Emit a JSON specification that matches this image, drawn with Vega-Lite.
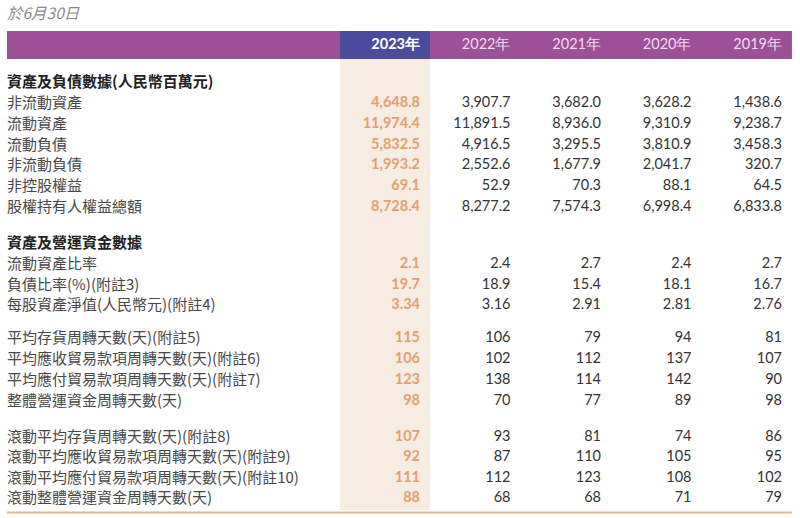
{
  "$schema": "https://vega.github.io/schema/vega-lite/v6.json",
  "width": 800,
  "height": 518,
  "padding": 0,
  "autosize": {"type": "fit", "contains": "padding"},
  "background": "#ffffff",
  "config": {"view": {"stroke": null}},
  "datasets": {
    "items": [
      {"line": 0, "item": "資產及負債數據(人民幣百萬元)", "h": true},
      {"line": 1.02, "item": "非流動資產", "h": false},
      {"line": 2.05, "item": "流動資產", "h": false},
      {"line": 3.05, "item": "流動負債", "h": false},
      {"line": 4.07, "item": "非流動負債", "h": false},
      {"line": 5.08, "item": "非控股權益", "h": false},
      {"line": 6.1, "item": "股權持有人權益總額", "h": false},
      {"line": 7.87, "item": "資產及營運資金數據", "h": true},
      {"line": 8.9, "item": "流動資產比率", "h": false},
      {"line": 9.9, "item": "負債比率(%)(附註3)", "h": false},
      {"line": 10.9, "item": "每股資產淨值(人民幣元)(附註4)", "h": false},
      {"line": 12.5, "item": "平均存貨周轉天數(天)(附註5)", "h": false},
      {"line": 13.53, "item": "平均應收貿易款項周轉天數(天)(附註6)", "h": false},
      {"line": 14.56, "item": "平均應付貿易款項周轉天數(天)(附註7)", "h": false},
      {"line": 15.58, "item": "整體營運資金周轉天數(天)", "h": false},
      {"line": 17.3, "item": "滾動平均存貨周轉天數(天)(附註8)", "h": false},
      {"line": 18.3, "item": "滾動平均應收貿易款項周轉天數(天)(附註9)", "h": false},
      {"line": 19.3, "item": "滾動平均應付貿易款項周轉天數(天)(附註10)", "h": false},
      {"line": 20.3, "item": "滾動整體營運資金周轉天數(天)", "h": false}
    ],
    "years": [
      {"year": 2023, "label": "2023年"},
      {"year": 2022, "label": "2022年"},
      {"year": 2021, "label": "2021年"},
      {"year": 2020, "label": "2020年"},
      {"year": 2019, "label": "2019年"}
    ],
    "cells": [
      {"line": 1.02, "year": 2023, "v": "4,648.8"}, {"line": 1.02, "year": 2022, "v": "3,907.7"}, {"line": 1.02, "year": 2021, "v": "3,682.0"}, {"line": 1.02, "year": 2020, "v": "3,628.2"}, {"line": 1.02, "year": 2019, "v": "1,438.6"},
      {"line": 2.05, "year": 2023, "v": "11,974.4"}, {"line": 2.05, "year": 2022, "v": "11,891.5"}, {"line": 2.05, "year": 2021, "v": "8,936.0"}, {"line": 2.05, "year": 2020, "v": "9,310.9"}, {"line": 2.05, "year": 2019, "v": "9,238.7"},
      {"line": 3.05, "year": 2023, "v": "5,832.5"}, {"line": 3.05, "year": 2022, "v": "4,916.5"}, {"line": 3.05, "year": 2021, "v": "3,295.5"}, {"line": 3.05, "year": 2020, "v": "3,810.9"}, {"line": 3.05, "year": 2019, "v": "3,458.3"},
      {"line": 4.07, "year": 2023, "v": "1,993.2"}, {"line": 4.07, "year": 2022, "v": "2,552.6"}, {"line": 4.07, "year": 2021, "v": "1,677.9"}, {"line": 4.07, "year": 2020, "v": "2,041.7"}, {"line": 4.07, "year": 2019, "v": "320.7"},
      {"line": 5.08, "year": 2023, "v": "69.1"}, {"line": 5.08, "year": 2022, "v": "52.9"}, {"line": 5.08, "year": 2021, "v": "70.3"}, {"line": 5.08, "year": 2020, "v": "88.1"}, {"line": 5.08, "year": 2019, "v": "64.5"},
      {"line": 6.1, "year": 2023, "v": "8,728.4"}, {"line": 6.1, "year": 2022, "v": "8,277.2"}, {"line": 6.1, "year": 2021, "v": "7,574.3"}, {"line": 6.1, "year": 2020, "v": "6,998.4"}, {"line": 6.1, "year": 2019, "v": "6,833.8"},
      {"line": 8.9, "year": 2023, "v": "2.1"}, {"line": 8.9, "year": 2022, "v": "2.4"}, {"line": 8.9, "year": 2021, "v": "2.7"}, {"line": 8.9, "year": 2020, "v": "2.4"}, {"line": 8.9, "year": 2019, "v": "2.7"},
      {"line": 9.9, "year": 2023, "v": "19.7"}, {"line": 9.9, "year": 2022, "v": "18.9"}, {"line": 9.9, "year": 2021, "v": "15.4"}, {"line": 9.9, "year": 2020, "v": "18.1"}, {"line": 9.9, "year": 2019, "v": "16.7"},
      {"line": 10.9, "year": 2023, "v": "3.34"}, {"line": 10.9, "year": 2022, "v": "3.16"}, {"line": 10.9, "year": 2021, "v": "2.91"}, {"line": 10.9, "year": 2020, "v": "2.81"}, {"line": 10.9, "year": 2019, "v": "2.76"},
      {"line": 12.5, "year": 2023, "v": "115"}, {"line": 12.5, "year": 2022, "v": "106"}, {"line": 12.5, "year": 2021, "v": "79"}, {"line": 12.5, "year": 2020, "v": "94"}, {"line": 12.5, "year": 2019, "v": "81"},
      {"line": 13.53, "year": 2023, "v": "106"}, {"line": 13.53, "year": 2022, "v": "102"}, {"line": 13.53, "year": 2021, "v": "112"}, {"line": 13.53, "year": 2020, "v": "137"}, {"line": 13.53, "year": 2019, "v": "107"},
      {"line": 14.56, "year": 2023, "v": "123"}, {"line": 14.56, "year": 2022, "v": "138"}, {"line": 14.56, "year": 2021, "v": "114"}, {"line": 14.56, "year": 2020, "v": "142"}, {"line": 14.56, "year": 2019, "v": "90"},
      {"line": 15.58, "year": 2023, "v": "98"}, {"line": 15.58, "year": 2022, "v": "70"}, {"line": 15.58, "year": 2021, "v": "77"}, {"line": 15.58, "year": 2020, "v": "89"}, {"line": 15.58, "year": 2019, "v": "98"},
      {"line": 17.3, "year": 2023, "v": "107"}, {"line": 17.3, "year": 2022, "v": "93"}, {"line": 17.3, "year": 2021, "v": "81"}, {"line": 17.3, "year": 2020, "v": "74"}, {"line": 17.3, "year": 2019, "v": "86"},
      {"line": 18.3, "year": 2023, "v": "92"}, {"line": 18.3, "year": 2022, "v": "87"}, {"line": 18.3, "year": 2021, "v": "110"}, {"line": 18.3, "year": 2020, "v": "105"}, {"line": 18.3, "year": 2019, "v": "95"},
      {"line": 19.3, "year": 2023, "v": "111"}, {"line": 19.3, "year": 2022, "v": "112"}, {"line": 19.3, "year": 2021, "v": "123"}, {"line": 19.3, "year": 2020, "v": "108"}, {"line": 19.3, "year": 2019, "v": "102"},
      {"line": 20.3, "year": 2023, "v": "88"}, {"line": 20.3, "year": 2022, "v": "68"}, {"line": 20.3, "year": 2021, "v": "68"}, {"line": 20.3, "year": 2020, "v": "71"}, {"line": 20.3, "year": 2019, "v": "79"}
    ]
  },
  "layer": [
    {
      "data": {"values": [{"x1": 2027.564, "x2": 2018.89, "y1": -2.488, "y2": -1.122}]},
      "mark": {"type": "rect", "color": "#9c5097"},
      "encoding": {
        "x": {"field": "x1", "type": "quantitative", "scale": {"domain": [2018.801, 2027.641], "reverse": true, "nice": false, "zero": false}, "axis": null},
        "x2": {"field": "x2"},
        "y": {"field": "y1", "type": "quantitative", "scale": {"domain": [-4, 21.268], "reverse": true, "nice": false, "zero": false}, "axis": null},
        "y2": {"field": "y2"}
      }
    },
    {
      "data": {"values": [{"x1": 2023.884, "x2": 2022.89, "y1": -1.122, "y2": 20.878}]},
      "mark": {"type": "rect", "color": "#f7ece2"},
      "encoding": {
        "x": {"field": "x1", "type": "quantitative"},
        "x2": {"field": "x2"},
        "y": {"field": "y1", "type": "quantitative"},
        "y2": {"field": "y2"}
      }
    },
    {
      "data": {"values": [{"x1": 2023.884, "x2": 2022.89, "y1": -2.488, "y2": -1.122}]},
      "mark": {"type": "rect", "color": "#4b4b9e"},
      "encoding": {
        "x": {"field": "x1", "type": "quantitative"},
        "x2": {"field": "x2"},
        "y": {"field": "y1", "type": "quantitative"},
        "y2": {"field": "y2"}
      }
    },
    {
      "data": {"values": [{"x1": 2027.564, "x2": 2018.89, "y1": 21.0}]},
      "mark": {"type": "rule", "color": "#e6b590", "strokeWidth": 2},
      "encoding": {
        "x": {"field": "x1", "type": "quantitative"},
        "x2": {"field": "x2"},
        "y": {"field": "y1", "type": "quantitative"}
      }
    },
    {
      "data": {"values": [{"x1": 2027.564, "y1": -3.317, "t": "於6月30日"}]},
      "mark": {"type": "text", "align": "left", "baseline": "middle", "font": "Noto Sans CJK TC", "fontSize": 15.5, "fontStyle": "italic", "color": "#8a8a8a"},
      "encoding": {
        "x": {"field": "x1", "type": "quantitative"},
        "y": {"field": "y1", "type": "quantitative"},
        "text": {"field": "t"}
      }
    },
    {
      "data": {"name": "years"},
      "transform": [{"filter": "datum.year != 2023"}],
      "mark": {"type": "text", "align": "right", "baseline": "middle", "font": "Lato", "fontSize": 14.5, "color": "#f2dcef"},
      "encoding": {
        "x": {"field": "year", "type": "quantitative"},
        "y": {"datum": -1.805, "type": "quantitative"},
        "text": {"field": "label"}
      }
    },
    {
      "data": {"name": "years"},
      "transform": [{"filter": "datum.year == 2023"}],
      "mark": {"type": "text", "align": "right", "baseline": "middle", "font": "Lato", "fontSize": 14.5, "fontWeight": "bold", "color": "#ffffff"},
      "encoding": {
        "x": {"field": "year", "type": "quantitative"},
        "y": {"datum": -1.805, "type": "quantitative"},
        "text": {"field": "label"}
      }
    },
    {
      "data": {"name": "items"},
      "transform": [{"filter": "!datum.h"}],
      "mark": {"type": "text", "align": "left", "baseline": "middle", "font": "Noto Sans CJK TC", "fontSize": 15, "color": "#484848"},
      "encoding": {
        "x": {"datum": 2027.564, "type": "quantitative"},
        "y": {"field": "line", "type": "quantitative"},
        "text": {"field": "item"}
      }
    },
    {
      "data": {"name": "items"},
      "transform": [{"filter": "datum.h"}],
      "mark": {"type": "text", "align": "left", "baseline": "middle", "font": "Noto Sans CJK TC", "fontSize": 15, "fontWeight": "bold", "color": "#222222"},
      "encoding": {
        "x": {"datum": 2027.564, "type": "quantitative"},
        "y": {"field": "line", "type": "quantitative"},
        "text": {"field": "item"}
      }
    },
    {
      "data": {"name": "cells"},
      "transform": [{"filter": "datum.year != 2023"}],
      "mark": {"type": "text", "align": "right", "baseline": "middle", "font": "Lato", "fontSize": 14.5, "color": "#333333"},
      "encoding": {
        "x": {"field": "year", "type": "quantitative"},
        "y": {"field": "line", "type": "quantitative"},
        "text": {"field": "v"}
      }
    },
    {
      "data": {"name": "cells"},
      "transform": [{"filter": "datum.year == 2023"}],
      "mark": {"type": "text", "align": "right", "baseline": "middle", "font": "Lato", "fontSize": 14.5, "fontWeight": "bold", "color": "#e3a06f"},
      "encoding": {
        "x": {"field": "year", "type": "quantitative"},
        "y": {"field": "line", "type": "quantitative"},
        "text": {"field": "v"}
      }
    }
  ]
}
